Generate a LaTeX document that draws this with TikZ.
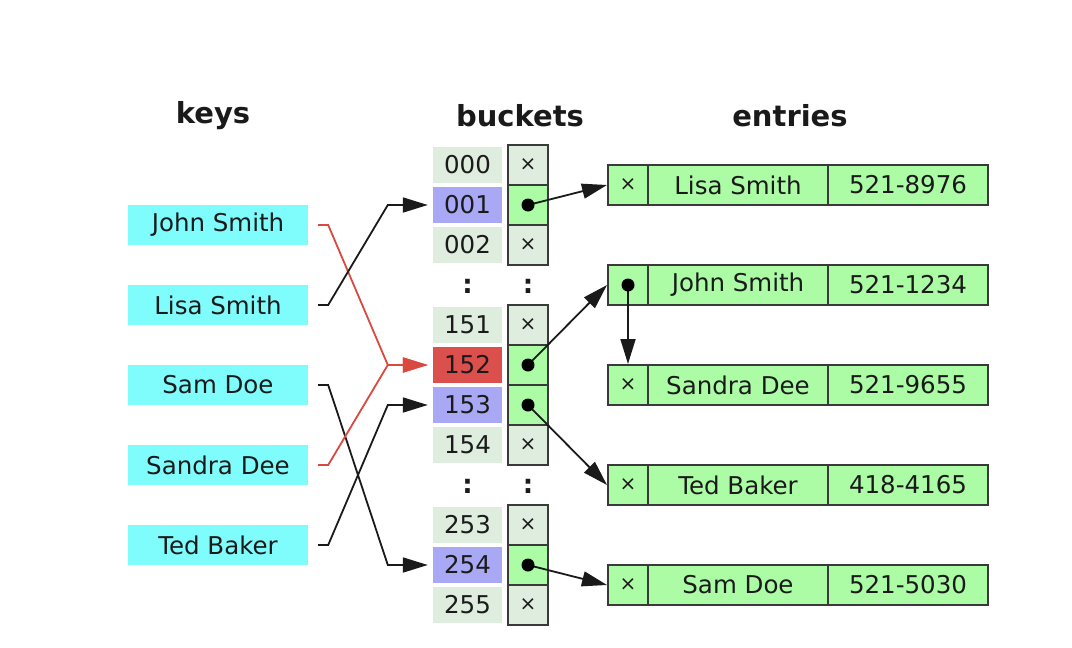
\documentclass[tikz,border=0pt]{standalone}
\usepackage{fontspec}
\setmainfont{DejaVu Sans}
\usetikzlibrary{arrows.meta,calc}
\definecolor{keycyan}{HTML}{7FFCFC}
\definecolor{cellgrey}{HTML}{DFEDDF}
\definecolor{cellblue}{HTML}{A8A8F5}
\definecolor{cellred}{HTML}{DB504C}
\definecolor{entgreen}{HTML}{ACFCA6}
\definecolor{ink}{HTML}{1A1A1A}
\definecolor{redline}{HTML}{D9493F}
\definecolor{border}{HTML}{3A3A3A}
\begin{document}
\begin{tikzpicture}[x=1pt,y=-1pt,
  every node/.style={font=\fontsize{24.5}{29}\selectfont, text=ink, inner sep=0pt},
  hdr/.style={font=\fontsize{29}{34}\selectfont\bfseries},
  keybox/.style={rectangle, fill=keycyan, minimum width=180pt, minimum height=40pt},
  idx/.style={rectangle, fill=cellgrey, minimum width=69pt, minimum height=36pt},
  ptrcell/.style={rectangle, fill=cellgrey, draw=border, line width=2pt, minimum width=40pt, minimum height=40pt, font=\fontsize{20}{24}\selectfont},
  full/.style={fill=entgreen},
  entcell/.style={rectangle, fill=entgreen, draw=border, line width=2pt, minimum height=40pt},
  xmark/.style={font=\fontsize{20}{24}\selectfont},
  colon/.style={font=\fontsize{26}{30}\selectfont\bfseries},
  keyline/.style={line width=1.8pt, shorten <=10pt, shorten >=5pt, -{Triangle[length=25pt,width=15pt]}},
  ptrline/.style={line width=1.8pt, ink, -{Triangle[length=25pt,width=15pt]}},
  dotmark/.style={fill=black}
]
\useasboundingbox (0,0) rectangle (1072,648);

% headers
\node[hdr] (hkeys) at (213,116) {keys};
\node[hdr] (hbuckets) at (520,116) {buckets};
\node[hdr] (hentries) at (790,116) {entries};

% keys
\node[keybox] (kjohn) at (218,225) {John Smith};
\node[keybox] (klisa) at (218,305) {Lisa Smith};
\node[keybox] (ksam) at (218,385) {Sam Doe};
\node[keybox] (ksandra) at (218,465) {Sandra Dee};
\node[keybox] (kted) at (218,545) {Ted Baker};

% bucket indices
\node[idx] (b000) at (467.5,165) {000};
\node[idx, fill=cellblue] (b001) at (467.5,205) {001};
\node[idx] (b002) at (467.5,245) {002};
\node[colon] (dots1) at (467.5,286) {:};
\node[idx] (b151) at (467.5,325) {151};
\node[idx, fill=cellred] (b152) at (467.5,365) {152};
\node[idx, fill=cellblue] (b153) at (467.5,405) {153};
\node[idx] (b154) at (467.5,445) {154};
\node[colon] (dots2) at (467.5,486) {:};
\node[idx] (b253) at (467.5,525) {253};
\node[idx, fill=cellblue] (b254) at (467.5,565) {254};
\node[idx] (b255) at (467.5,605) {255};

% bucket pointers
\node[ptrcell] (p000) at (528,165) {×};
\node[ptrcell, full] (p001) at (528,205) {};
\node[ptrcell] (p002) at (528,245) {×};
\node[colon] (dots3) at (528,286) {:};
\node[ptrcell] (p151) at (528,325) {×};
\node[ptrcell, full] (p152) at (528,365) {};
\node[ptrcell, full] (p153) at (528,405) {};
\node[ptrcell] (p154) at (528,445) {×};
\node[colon] (dots4) at (528,486) {:};
\node[ptrcell] (p253) at (528,525) {×};
\node[ptrcell, full] (p254) at (528,565) {};
\node[ptrcell] (p255) at (528,605) {×};

% entries
\foreach \nm/\yy/\ptr/\who/\num in {elisa/185/×/Lisa Smith/521-8976,
  ejohn/285/{}/John Smith/521-1234,
  esandra/385/×/Sandra Dee/521-9655,
  eted/485/×/Ted Baker/418-4165,
  esam/585/×/Sam Doe/521-5030}{
  \node[entcell, xmark, minimum width=40pt] (\nm-x) at (628,\yy) {\ptr};
  \node[entcell, minimum width=180pt] (\nm-name) at (738,\yy) {\who};
  \node[entcell, minimum width=160pt] (\nm-num) at (908,\yy) {\num};
}

% key connectors
\draw[keyline, redline] (kjohn.east) -- ++(20,0) -- ([xshift=-45pt]b152.west) -- (b152.west);
\draw[keyline, ink] (klisa.east) -- ++(20,0) -- ([xshift=-45pt]b001.west) -- (b001.west);
\draw[keyline, ink] (ksam.east) -- ++(20,0) -- ([xshift=-45pt]b254.west) -- (b254.west);
\draw[keyline, redline] (ksandra.east) -- ++(20,0) -- ([xshift=-45pt]b152.west) -- (b152.west);
\draw[keyline, ink] (kted.east) -- ++(20,0) -- ([xshift=-45pt]b153.west) -- (b153.west);

% pointer arrows
\draw[ptrline] (p001.center) -- (elisa-x.west);
\draw[ptrline] (p152.center) -- (ejohn-x.west);
\draw[ptrline] (p153.center) -- (eted-x.west);
\draw[ptrline] (p254.center) -- (esam-x.west);
\draw[ptrline] (ejohn-x.center) -- (esandra-x.north);

\fill[dotmark] (p001.center) circle (6.5pt);
\fill[dotmark] (p152.center) circle (6.5pt);
\fill[dotmark] (p153.center) circle (6.5pt);
\fill[dotmark] (p254.center) circle (6.5pt);
\fill[dotmark] (ejohn-x.center) circle (6.5pt);
\end{tikzpicture}
\end{document}
